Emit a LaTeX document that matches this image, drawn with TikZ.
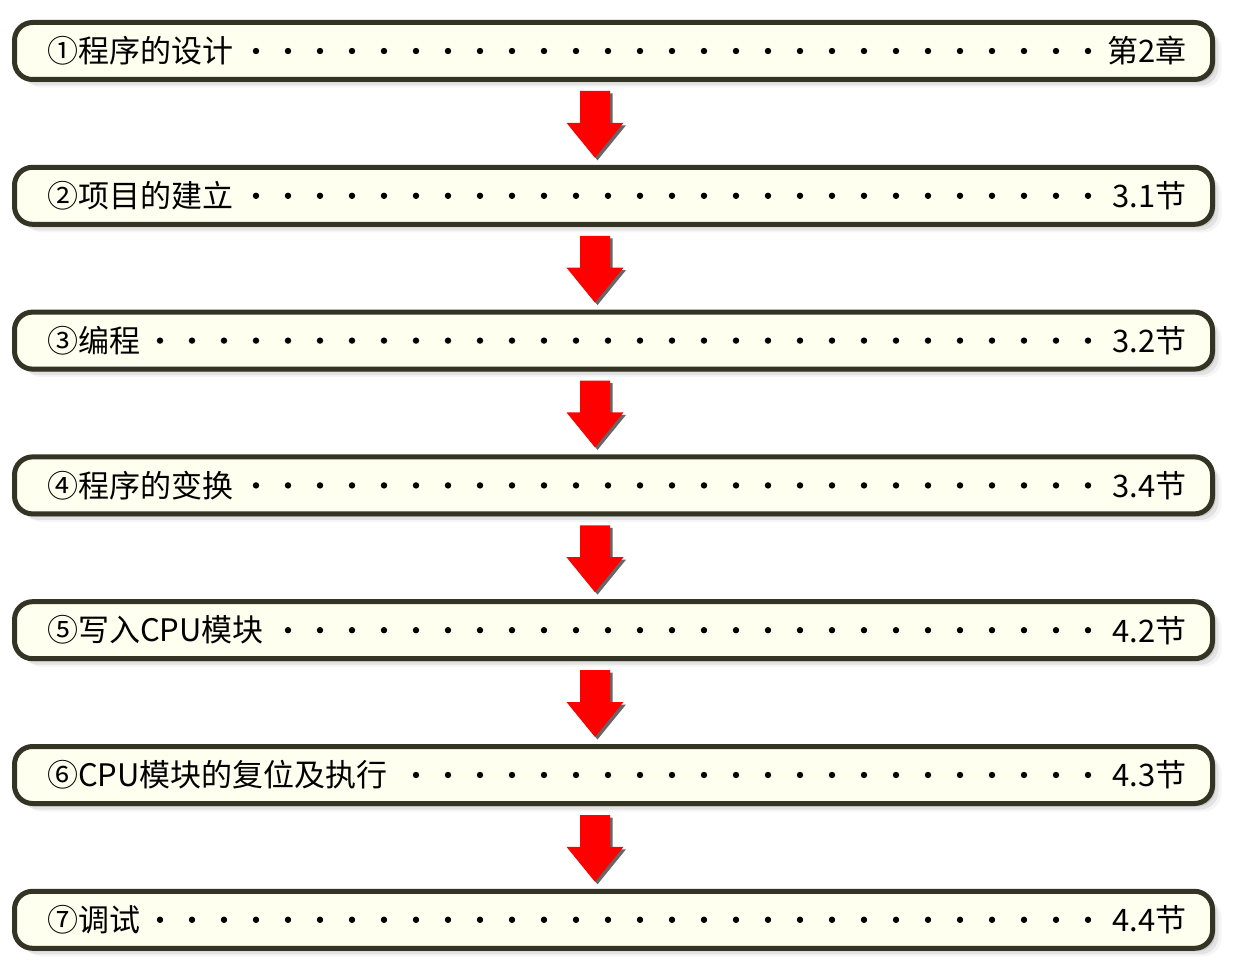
\documentclass[tikz,border=0pt]{standalone}
\usepackage{fontspec}
\setmainfont{Noto Sans CJK SC}
\usetikzlibrary{calc,shadows}
\definecolor{boxfill}{RGB}{255,255,240}
\definecolor{boxline}{RGB}{52,52,36}
\definecolor{arrred}{RGB}{255,0,0}
\tikzset{
  box/.style={draw=boxline, line width=5pt, fill=boxfill, rounded corners=18pt,
    minimum width=1198pt, minimum height=57pt, inner sep=0pt,
    general shadow={fill=black, opacity=.10, shadow xshift=3pt, shadow yshift=-3pt},
    general shadow={fill=black, opacity=.07, shadow xshift=6pt, shadow yshift=-6pt},
    general shadow={fill=black, opacity=.04, shadow xshift=9pt, shadow yshift=-8pt}},
  lbl/.style={inner sep=0pt, font=\fontsize{31}{37}\selectfont, text=black},
  blockarrow/.style={fill=arrred, draw=none,
    general shadow={fill=black!80, opacity=.75, shadow xshift=2.5pt, shadow yshift=-2.5pt}},
  dotmark/.style={fill=black}
}
\begin{document}
\begin{tikzpicture}[x=1pt,y=-1pt]
\useasboundingbox (0,0) rectangle (1234,979);
\fill[white] (0,0) rectangle (1234,979);
\foreach \i/\l/\r/\k in {1/①程序的设计/第2章/3, 2/②项目的建立/3.1节/3, 3/③编程/3.2节/0, 4/④程序的变换/3.4节/3, 5/⑤写入CPU模块/4.2节/4, 6/⑥CPU模块的复位及执行/4.3节/8, 7/⑦调试/4.4节/0} {
  \pgfmathsetmacro\cy{51+144.8*(\i-1)}
  \node[box] (b\i) at (613.5,\cy) {};
  \node[lbl, anchor=west] (l\i) at (47,\cy) {\l};
  \node[lbl, anchor=east] (r\i) at (1187,\cy) {\r};
  \foreach \d in {\k,...,29} \fill[dotmark] (160+32*\d, \cy) circle[radius=3.2pt];
}
\foreach \i [evaluate=\i as \j using int(\i+1)] in {1,...,6} {
  \path[blockarrow] let \p1=(b\i.south), \p2=(b\j.north) in
    (\x1-33.5pt,\y1-9pt) -- (\x1-33.5pt,\y2+42pt) -- (\x1-47pt,\y2+42pt) --
    (\x1-18.5pt,\y2+7pt) -- (\x1+10pt,\y2+42pt) -- (\x1-3.5pt,\y2+42pt) --
    (\x1-3.5pt,\y1-9pt) -- cycle;
}
\end{tikzpicture}
\end{document}
